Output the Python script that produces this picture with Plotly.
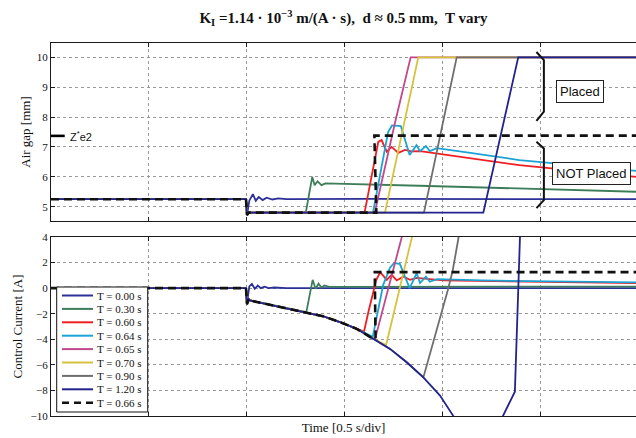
import plotly.graph_objects as go

# ---------------- data ----------------
names = ["T = 0.00 s", "T = 0.30 s", "T = 0.60 s", "T = 0.64 s", "T = 0.65 s",
         "T = 0.70 s", "T = 0.90 s", "T = 1.20 s", "T = 0.66 s"]
colors = ["#2B3196", "#3E7D5A", "#F01E23", "#1AA3D4", "#C2488E",
          "#D6C23E", "#6E6E6E", "#23238E", "#111111"]
dashes = ["solid"] * 8 + ["dash"]

# shared segments (time in s, gap in mm, current in A)
pre_t = [0.0, 0.995]
pre_gap = [5.25, 5.25]
pre_cur = [0.0, 0.0]
step_t = [1.0, 1.008]
step_gap = [4.72, 4.8]
step_cur = [-1.25, -0.85]
decay_t = [1.015, 1.134, 1.305, 1.389, 1.474, 1.56, 1.644, 1.73, 1.815, 1.90, 1.985, 2.053]
decay_cur = [-0.96, -1.35, -1.87, -2.2, -2.65, -3.18, -3.96, -4.75, -5.8, -6.98, -8.4, -10.0]

# T = 0.00 s (never leaves)
t000_gt = [1.0, 1.012, 1.03, 1.045, 1.06, 1.08, 1.1, 1.13, 1.16, 1.2, 1.6, 2.0, 2.5, 2.985]
t000_gv = [4.72, 5.2, 5.42, 5.2, 5.32, 5.22, 5.3, 5.24, 5.28, 5.25, 5.26, 5.25, 5.26, 5.25]
t000_ct = [1.0, 1.012, 1.025, 1.04, 1.055, 1.07, 1.09, 1.11, 1.14, 1.2, 2.985]
t000_cv = [-1.2, 0.13, 0.33, -0.05, 0.2, 0.0, 0.12, 0.0, 0.05, 0.0, 0.0]

# release parts of each other series
t030_gt = [1.30, 1.333, 1.345, 1.36, 1.38, 1.40, 1.88, 2.985]
t030_gv = [4.8, 6.0, 5.72, 5.85, 5.72, 5.78, 5.7, 5.5]
t030_ct = [1.303, 1.335, 1.35, 1.365, 1.38, 1.395, 1.42, 2.985]
t030_cv = [-1.87, 0.65, -0.05, 0.35, 0.05, 0.2, 0.1, 0.12]

t060_gt = [1.60, 1.67, 1.687, 1.713, 1.738, 1.772, 1.806, 1.84, 1.883, 1.968, 2.39, 2.985]
t060_gv = [4.8, 7.17, 7.23, 6.84, 7.0, 6.8, 6.9, 6.85, 6.86, 6.78, 6.39, 6.0]
t060_ct = [1.597, 1.603, 1.62, 1.66, 1.68, 1.713, 1.738, 1.764, 1.798, 1.832, 1.866, 2.0, 2.5, 2.985]
t060_cv = [-3.4, -3.0, -1.83, 0.65, 1.25, 0.65, 1.04, 0.6, 0.9, 0.65, 0.8, 0.6, 0.5, 0.4]

t064_gt = [1.643, 1.72, 1.74, 1.785, 1.83, 1.865, 1.883, 1.913, 1.933, 1.968, 2.14, 2.39, 2.985]
t064_gv = [4.8, 7.5, 7.72, 7.7, 6.73, 7.06, 6.86, 7.03, 6.86, 6.96, 6.8, 6.56, 6.2]
t064_ct = [1.642, 1.695, 1.73, 1.75, 1.78, 1.83, 1.866, 1.883, 1.913, 1.933, 1.97, 2.2, 2.985]
t064_cv = [-3.8, 0.26, 1.6, 1.95, 1.9, 0.0, 1.17, 0.4, 0.9, 0.5, 0.7, 0.6, 0.45]

t065_gt = [1.652, 1.755, 1.835, 2.985]
t065_gv = [4.8, 7.8, 10.0, 10.0]
t065_ct = [1.654, 1.79, 1.80]
t065_cv = [-3.95, 4.0, 4.6]

t070_gt = [1.704, 1.874, 2.985]
t070_gv = [4.8, 10.0, 10.0]
t070_ct = [1.71, 1.842, 1.85]
t070_cv = [-4.45, 4.0, 4.5]

t090_gt = [1.903, 2.07, 2.985]
t090_gv = [4.8, 10.0, 10.0]
t090_ct = [1.90, 2.025, 2.05, 2.08, 2.085]
t090_cv = [-6.98, -0.15, 1.4, 4.0, 4.5]

t120_gt = [2.206, 2.384, 2.985]
t120_gv = [4.8, 10.0, 10.0]
t120_ct = [2.07, 2.295, 2.306, 2.367, 2.393, 2.397]
t120_cv = [-11.0, -11.5, -10.0, -8.1, 4.0, 4.6]

t066_gt = [1.66, 1.65, 2.985]
t066_gv = [4.8, 7.38, 7.38]
t066_ct = [1.656, 1.652, 2.985]
t066_cv = [-3.95, 1.25, 1.25]

ze2 = 7.37
brace_placed = [10.18, 9.91, 8.18, 7.87]
brace_notplaced = [7.17, 6.95, 5.22, 4.95]

# ---------------- build series ----------------
release = [
    (t030_gt, t030_gv, t030_ct, t030_cv),
    (t060_gt, t060_gv, t060_ct, t060_cv),
    (t064_gt, t064_gv, t064_ct, t064_cv),
    (t065_gt, t065_gv, t065_ct, t065_cv),
    (t070_gt, t070_gv, t070_ct, t070_cv),
    (t090_gt, t090_gv, t090_ct, t090_cv),
    (t120_gt, t120_gv, t120_ct, t120_cv),
    (t066_gt, t066_gv, t066_ct, t066_cv),
]

series = [(pre_t + t000_gt, pre_gap + t000_gv, pre_t + t000_ct, pre_cur + t000_cv)]
for gt, gv, ct, cv in release:
    dt = [t for t in decay_t if t < ct[0]]
    dc = [c for t, c in zip(decay_t, decay_cur) if t < ct[0]]
    series.append((pre_t + step_t + gt, pre_gap + step_gap + gv,
                   pre_t + step_t + dt + ct, pre_cur + step_cur + dc + cv))

fig = go.Figure()
for i, (gt, gv, ct, cv) in enumerate(series):
    w = 2.6 if dashes[i] == "dash" else 1.8
    line = dict(color=colors[i], width=w, dash="8px,5px" if dashes[i] == "dash" else "solid")
    fig.add_trace(go.Scatter(x=gt, y=gv, mode="lines", line=line, name=names[i],
                             xaxis="x", yaxis="y", showlegend=False))
    fig.add_trace(go.Scatter(x=ct, y=cv, mode="lines", line=line, name=names[i],
                             xaxis="x2", yaxis="y2", showlegend=False))

# ---------------- layout ----------------
W, H = 636, 438
ML, MR, MT, MB = 51, 0, 43, 22
PW, PH = W - ML - MR, H - MT - MB


def px_x(px):
    return (px - ML) / PW


def px_y(py):
    return (H - MB - py) / PH


serif = "Liberation Serif"
axis_common = dict(showline=True, linecolor="#1a1a1a", linewidth=1, ticks="inside",
                   ticklen=4, tickcolor="#1a1a1a", showgrid=True, gridcolor="#9a9a9a",
                   griddash="dot", gridwidth=1, zeroline=False,
                   tickfont=dict(family=serif, size=11, color="#111"))

fig.update_layout(
    width=W, height=H, margin=dict(l=ML, r=MR, t=MT, b=MB),
    paper_bgcolor="white", plot_bgcolor="white", showlegend=False,
    font=dict(family=serif, size=11, color="#111"),
    title=dict(text="<b>K<sub>I</sub> =1.14 · 10<sup>−3</sup> m/(A · s),\u00a0 d ≈ 0.5 mm,\u00a0 T vary</b>",
               x=0.5, xref="paper", xanchor="center", y=1 - 18 / H, yref="container",
               yanchor="middle", font=dict(family=serif, size=15, color="#111")),
    xaxis=dict(axis_common, domain=[0, 1], range=[0, 2.985], dtick=0.5, tick0=0,
               showticklabels=False, mirror="ticks", anchor="y"),
    yaxis=dict(axis_common, domain=[px_y(221), 1], range=[4.52, 10.48], dtick=1,
               anchor="x", title=dict(text="Air gap [mm]", standoff=3,
                                      font=dict(family=serif, size=13))),
    xaxis2=dict(axis_common, domain=[0, 1], range=[0, 2.985], dtick=0.5, tick0=0,
                showticklabels=False, mirror="ticks", anchor="y2",
                title=dict(text="Time [0.5 s/div]", standoff=6,
                           font=dict(family=serif, size=13))),
    yaxis2=dict(axis_common, domain=[0, px_y(237)], range=[-10, 4], dtick=2,
                anchor="x2", tickformat="d",
                title=dict(text="Control Current [A]", standoff=5,
                           font=dict(family=serif, size=13))),
)

shapes = []
annotations = []

# z*e2 marker
shapes.append(dict(type="line", xref="x", yref="y", x0=0, x1=0.07, y0=ze2, y1=ze2,
                   line=dict(color="black", width=2.6)))
annotations.append(dict(x=0.085, y=ze2, xref="x", yref="y", xanchor="left", yanchor="middle",
                        text="Z<sup>*</sup>e2", showarrow=False,
                        font=dict(family="Liberation Sans", size=11, color="#111")))

# braces
for b in (brace_placed, brace_notplaced):
    xa, xb = 2.477, 2.515
    path = f"M {xa},{b[0]} L {xb},{b[1]} L {xb},{b[2]} L {xa},{b[3]}"
    shapes.append(dict(type="path", xref="x", yref="y", path=path,
                       line=dict(color="#111", width=2)))

annotations.append(dict(x=px_x(580), y=px_y(91), xref="paper", yref="paper", text="Placed",
                        xanchor="center", yanchor="middle",
                        showarrow=False, bgcolor="white", bordercolor="#222", borderwidth=1,
                        borderpad=3, font=dict(family="Liberation Sans", size=13, color="#111")))
annotations.append(dict(x=px_x(591), y=px_y(173.5), xref="paper", yref="paper", text="NOT Placed",
                        xanchor="center", yanchor="middle",
                        showarrow=False, bgcolor="white", bordercolor="#222", borderwidth=1,
                        borderpad=3, font=dict(family="Liberation Sans", size=13, color="#111")))

# legend box (compact, matching the reference spacing)
shapes.append(dict(type="rect", xref="paper", yref="paper", x0=px_x(56.7), x1=px_x(147.7),
                   y0=px_y(412), y1=px_y(287), fillcolor="white",
                   line=dict(color="#111", width=1), layer="above"))
for i, nm in enumerate(names):
    yy = px_y(295.5 + 13.4 * i)
    shapes.append(dict(type="line", xref="paper", yref="paper", x0=px_x(62), x1=px_x(93),
                       y0=yy, y1=yy, layer="above",
                       line=dict(color=colors[i], width=2.4 if dashes[i] == "dash" else 2,
                                 dash="7px,5px" if dashes[i] == "dash" else "solid")))
    annotations.append(dict(x=px_x(94.5), y=yy, xref="paper", yref="paper", xanchor="left",
                            yanchor="middle", text=nm, showarrow=False,
                            font=dict(family=serif, size=11, color="#111")))

fig.update_layout(shapes=shapes, annotations=annotations)
fig.write_html("out.html")
